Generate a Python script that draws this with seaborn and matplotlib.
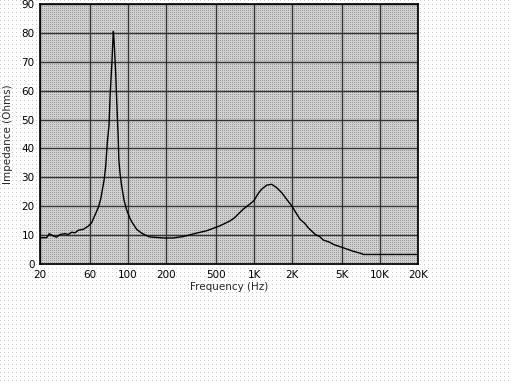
import numpy as np
import pandas as pd
import matplotlib
matplotlib.use("Agg")
import matplotlib.pyplot as plt
import seaborn as sns

freq = [20, 22.6, 23.7, 25.5, 27.1, 28.8, 31.6, 33.5, 35.7, 37.9, 40.3, 44.1, 48.3,
        51.4, 54.7, 58, 60.6, 64.5, 66.5, 68.4, 70.6, 72, 73.2, 74.5, 75.5, 76.4,
        77.5, 78.5, 79.8, 82, 83.5, 84.5, 86.5, 89, 93, 97, 103, 107, 117, 128, 147,
        190, 227, 274, 350, 420, 535, 643, 700, 821, 993, 1090, 1150, 1260, 1380,
        1512, 1657, 1815, 1990, 2314, 2536, 2694, 3047, 3334, 3541, 4000, 4255,
        5106, 6134, 7150, 7316, 20000]
impedance = [9.1, 9.1, 10.5, 9.7, 9.3, 10.2, 10.5, 10.2, 11.0, 10.8, 11.7, 12.0, 13.1,
             14.3, 17.0, 19.5, 22.4, 29, 34, 42, 48, 58, 64, 70, 76, 80.5,
             77, 72, 66, 52, 44, 36, 31, 27, 22, 19, 16, 14.6, 12.0, 10.7, 9.4,
             9.0, 9.0, 9.5, 10.7, 11.5, 13.2, 14.9, 16.0, 19.0, 21.8, 24.7, 25.9, 27.3, 27.6,
             26.4, 24.7, 22.4, 20.1, 15.5, 14.0, 12.5, 10.3, 9.4, 8.3, 7.5, 6.8,
             5.6, 4.4, 3.6, 3.3, 3.3]
xtick_vals = [20, 50, 100, 200, 500, 1000, 2000, 5000, 10000, 20000]
xtick_labels = ["20", "60", "100", "200", "500", "1K", "2K", "5K", "10K", "20K"]
ytick_vals = [0, 10, 20, 30, 40, 50, 60, 70, 80, 90]

df = pd.DataFrame({"Frequency": freq, "Impedance": impedance})

sns.set_style("white")
plt.rcParams["font.family"] = ["DejaVu Sans"]

W, H = 512, 384
fig = plt.figure(figsize=(W / 100, H / 100), dpi=100)

# stippled background
L, R, T, B = 40, 418, 4, 264
bg = np.ones((H, W, 3))
yy, xx = np.mgrid[0:H, 0:W]
outside_dots = (xx % 4 == 0) & (yy % 4 == 0)
bg[outside_dots] = 0.8
inside = (xx >= L) & (xx <= R) & (yy >= T) & (yy <= B)
bg[inside] = 0.82
bg[inside & (xx % 2 == 0) & (yy % 2 == 0)] = 0.6
fig.figimage(bg, xo=0, yo=0, origin="upper", zorder=-10)

ax = fig.add_axes([L / W, 1 - B / H, (R - L) / W, (B - T) / H])
ax.patch.set_alpha(0)

sns.lineplot(data=df, x="Frequency", y="Impedance", ax=ax, color="black",
             linewidth=1.0, zorder=3)
ax.set_xscale("log")
ax.set_xlim(20, 20000)
ax.set_ylim(0, 90)
ax.set_xticks(xtick_vals)
ax.set_xticklabels(xtick_labels)
ax.xaxis.set_minor_locator(matplotlib.ticker.NullLocator())
ax.set_yticks(ytick_vals)
ax.tick_params(axis="both", length=0, labelsize=7.5, pad=4, colors="black")
ax.grid(True, color="#333333", linewidth=1.0, zorder=1)
ax.set_axisbelow(True)
for s in ax.spines.values():
    s.set_color("black")
    s.set_linewidth(1.2)
ax.set_xlabel("Frequency (Hz)", fontsize=7.5, labelpad=2)
ax.set_ylabel("Impedance (Ohms)", fontsize=7.5, labelpad=6)

fig.savefig("out.png", dpi=100)
